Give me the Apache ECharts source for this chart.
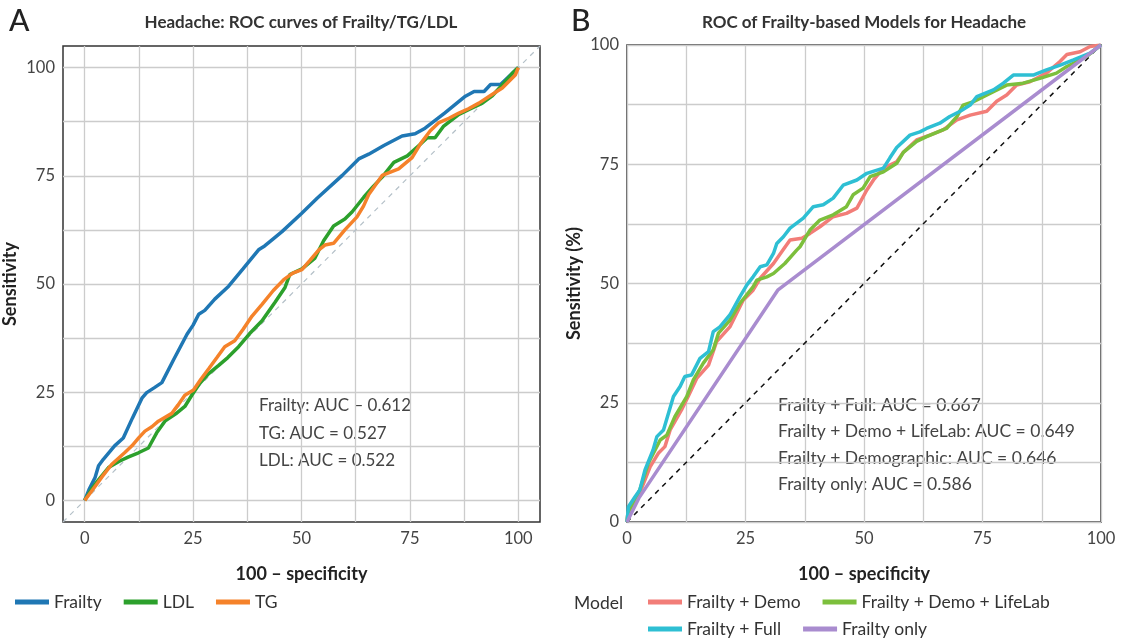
<!DOCTYPE html>
<html>
<head>
<meta charset="utf-8">
<script src="https://cdn.jsdelivr.net/npm/echarts@6/dist/echarts.min.js"></script>
<style>
  html, body { margin: 0; padding: 0; background: #fff; }
  #chart { width: 1122px; height: 641px; }
</style>
</head>
<body>
<div id="chart"></div>
<script>
// Panel A: ROC curves (x = 100 - specificity, y = sensitivity)
const frailtyA = [[0,0],[1,2.5],[2.4,5.3],[3.2,8],[4.3,9.5],[6.9,12.6],[8.9,14.4],[11,19],[13.2,23.6],[14.3,24.9],[16,26],[17.8,27.2],[20.5,32.5],[23.6,38.4],[25,40.5],[26.3,43],[27.7,43.9],[30,46.5],[33.2,49.5],[36.5,53.5],[40.1,57.9],[41.5,58.8],[43.2,60.2],[45.5,62.1],[50,66.3],[53.6,69.8],[59.4,75.1],[63.2,78.9],[65.5,80],[69,82],[73.2,84.2],[76.2,84.7],[78.5,86],[83,89.5],[87.8,93.4],[89.8,94.5],[92.1,94.5],[93.6,96.1],[95.9,96.1],[100,100]];
const ldlA = [[0,0],[1.5,2.5],[3,4.5],[5.5,7.6],[8.1,9.1],[10,10],[12.4,11],[14.7,12.1],[16.6,15.6],[18.5,18.3],[21,20],[23.1,21.7],[24.7,24.3],[26.5,27],[28.6,29.3],[30.9,31.2],[33,33],[35.5,35.5],[38,38.5],[40.9,41.5],[43.9,45.8],[46.2,49.2],[47.3,52.2],[50.1,53.5],[53.1,56],[55.1,60],[57.4,63.4],[60,65],[61.7,66.7],[64.4,70.1],[66.5,72.5],[68.6,74.7],[71.3,78.1],[74.4,79.6],[77.4,82.3],[79,83.8],[80.8,83.8],[82.8,86.5],[86.3,89.2],[89,90.5],[91.7,91.8],[94,93.5],[96.3,96],[98.6,98.7],[100,100]];
const tgA = [[0,0],[1.5,2],[3.9,5.3],[6.2,8.3],[9.2,11],[10.9,12.6],[12.5,14.5],[13.9,16],[15.5,17],[17,18.3],[20.1,20.1],[21.5,22],[23.1,24.3],[25.1,25.5],[26.8,28],[28.6,30.4],[30.5,33],[32.3,35.5],[34.6,36.9],[36.5,39.5],[38.6,42.6],[40.9,45.3],[43.5,48.5],[45.9,51],[48,52.5],[50.1,53.3],[52,55.5],[54,57.9],[55.4,59],[57.4,59.4],[60,62.5],[62.8,65.5],[64.3,68],[65.5,70.7],[68.6,75.1],[72.4,76.6],[75.5,79.2],[77.5,82.5],[79.7,85.4],[81.7,87.3],[84,88.3],[86.3,89.5],[88.5,90.5],[90.9,91.8],[93.5,93.5],[96.3,95.3],[99.3,98.3],[100,100]];
const namesA = ['Frailty', 'LDL', 'TG'];
const aucTextA = ['Frailty: AUC – 0.612', 'TG: AUC = 0.527', 'LDL: AUC = 0.522'];

// Panel B: frailty-based models
const demoB = [[0,0],[0.2,1.9],[2.7,6.1],[4.9,11.6],[6.6,14.4],[8,15.8],[9.1,19.3],[11.5,23.5],[12.9,26.3],[14.7,30.1],[17.2,32.9],[18.9,37.8],[21.7,40.9],[24.5,46.5],[26.6,48.6],[28.1,51.1],[30.9,54.2],[32.9,57],[34.4,59.1],[36.9,59.5],[38.6,60.5],[40.7,61.9],[43.5,64],[46.3,64.7],[48.5,65.8],[50.6,69.6],[52,71.7],[54.1,74.2],[56.9,75.5],[58.3,77.5],[61.1,80.1],[63.9,81.1],[66.7,82.2],[69.6,84.3],[72.4,85.3],[75.9,86.1],[78,88.2],[80.1,89.5],[82.2,91.6],[85,92.3],[88.5,94.1],[91.4,96.6],[92.8,98],[95.6,98.6],[97.7,99.7],[100,100]];
const lifelabB = [[0,0],[0.2,1.9],[2.7,6.7],[4.5,12.3],[7,17.2],[8.4,18.2],[10.1,22.1],[12.6,26.3],[14,29.8],[16.1,33.3],[18.2,36.1],[19.3,39.6],[21.7,42.3],[23.8,45.8],[26.6,49.3],[27.4,50.7],[29.5,51.4],[30.9,52.1],[33.3,54.2],[35.8,57],[36.5,57.7],[38.6,61.2],[40.7,63.3],[43.5,64.4],[46.3,66.1],[47.7,68.6],[49.8,70],[51.3,72.4],[54.1,73.4],[56.9,75.2],[58.3,77.5],[61.1,79.8],[63.2,80.8],[67.4,82.5],[69.6,85],[70.9,87.4],[73.1,88.1],[77.3,90.2],[80.1,91.6],[83.6,92],[87.1,93],[90.6,94.1],[92.8,95.5],[97,97.6],[100,100]];
const fullB = [[0,0],[0.3,3.2],[1.7,5.3],[2.7,6.7],[3.8,10.9],[5.5,15.1],[6.3,17.9],[7.7,19.3],[9.8,26.3],[11.2,28.4],[12.2,30.5],[13.6,30.8],[15.4,34.3],[17.2,35.7],[18.2,39.9],[19.6,40.9],[21.7,43.4],[23.8,47.2],[25.3,49.7],[26.6,51.4],[28.1,53.5],[29.5,53.9],[30.9,56.3],[31.6,58.4],[33,59.8],[34.4,61.6],[37.2,63.7],[39.3,66.1],[41.4,66.5],[43.5,67.9],[45.6,70.6],[48.5,71.7],[50.6,73.1],[54.1,74.2],[55.5,76.4],[56.9,78.5],[59.7,81.1],[61.8,81.8],[63.2,82.5],[66,83.6],[68.1,85],[70.3,86.1],[72.4,87.4],[73.8,89.2],[77.3,90.6],[79.4,92],[81.5,93.7],[85.7,93.7],[88.5,94.8],[91.4,95.8],[94.2,96.9],[97.7,98.3],[100,100]];
const onlyB = [[0,0],[2.5,5],[31.8,48.6],[100,100]];
const namesB = ['Frailty + Demo', 'Frailty + Demo + LifeLab', 'Frailty + Full', 'Frailty only'];
const aucTextB = ['Frailty + Full: AUC = 0.667', 'Frailty + Demo + LifeLab: AUC = 0.649', 'Frailty + Demographic: AUC = 0.646', 'Frailty only: AUC = 0.586'];

const tickLabels = [0, 25, 50, 75, 100];
const gridTicks = [0, 12.5, 25, 37.5, 50, 62.5, 75, 87.5, 100];

const FONT = 'Lato, "Noto Sans", sans-serif';
const colorsA = ['#1f77b4', '#2ca02c', '#f5822a'];
const colorsB = ['#f27d78', '#7cbf3c', '#2ebfd3', '#a98ccf'];

const chart = echarts.init(document.getElementById('chart'), null, { renderer: 'canvas' });

const nameStyle = { fontFamily: FONT, fontSize: 18, fontWeight: 'bold', color: '#222' };
const labelStyle = { fontFamily: FONT, fontSize: 16.5, color: '#444', margin: 8 };

function axisA(name, gap) {
    return {
        type: 'value', gridIndex: 0, min: -5, max: 105,
        name: name, nameLocation: 'middle', nameGap: gap, nameTextStyle: nameStyle,
        axisLine: { show: false },
        axisTick: { show: false, customValues: gridTicks },
        axisLabel: Object.assign({ customValues: tickLabels }, labelStyle),
        splitLine: { show: true, lineStyle: { color: '#cccccc', width: 1.3 } }
    };
}
function axisB(name, gap) {
    return {
        type: 'value', gridIndex: 1, min: 0, max: 100, interval: 12.5,
        name: name, nameLocation: 'middle', nameGap: gap, nameTextStyle: nameStyle,
        axisLine: { show: false },
        axisTick: { show: false },
        axisLabel: Object.assign({
            formatter: v => (tickLabels.indexOf(v) >= 0 ? String(v) : '')
        }, labelStyle),
        splitLine: { show: true, lineStyle: { color: '#cccccc', width: 1.3 } }
    };
}

function curve(name, data, color, xi) {
    return {
        name: name, type: 'line', xAxisIndex: xi, yAxisIndex: xi,
        data: data, showSymbol: false, symbol: 'none',
        lineStyle: { color: color, width: 3.5 }, itemStyle: { color: color },
        emphasis: { disabled: true }, animation: false
    };
}

const textEl = (t, x, y, extra) => ({
    type: 'text', x: x, y: y, silent: true,
    style: Object.assign({ text: t, font: '17px ' + FONT, fill: '#444', textVerticalAlign: 'middle' }, extra || {})
});

const graphics = [
    textEl('A', 9, 21, { font: '500 30px ' + FONT, fill: '#222' }),
    textEl('B', 571, 21, { font: '500 30px ' + FONT, fill: '#222' }),
    textEl('Headache: ROC curves of Frailty/TG/LDL', 301, 23, { font: 'bold 17px ' + FONT, fill: '#333', textAlign: 'center' }),
    textEl('ROC of Frailty-based Models for Headache', 864, 23, { font: 'bold 17px ' + FONT, fill: '#333', textAlign: 'center' }),
    textEl('Model', 574, 603, { font: '17.5px ' + FONT, fill: '#333' })
];
aucTextA.forEach((t, i) => graphics.push(textEl(t, 259, 406 + i * 27.5)));
aucTextB.forEach((t, i) => graphics.push(textEl(t, 778, 405 + i * 26.5, { font: '17.5px ' + FONT })));

const legendCommon = {
    icon: 'rect', itemWidth: 34, itemHeight: 5, itemGap: 22, padding: 0,
    textStyle: { fontFamily: FONT, fontSize: 17.5, color: '#333' },
    selectedMode: false
};

chart.setOption({
    backgroundColor: '#fff',
    animation: false,
    grid: [
        { left: 62, top: 46, width: 478, height: 476, show: true, borderColor: '#333', borderWidth: 1.5, backgroundColor: '#fff' },
        { left: 627, top: 45, width: 474, height: 477, show: true, borderColor: '#333', borderWidth: 1.5, backgroundColor: '#fff' }
    ],
    xAxis: [axisA('100 – specificity', 43), axisB('100 – specificity', 43)],
    yAxis: [axisA('Sensitivity', 44), axisB('Sensitivity (%)', 44)],
    legend: [
        Object.assign({ left: 15, top: 593, data: namesA }, legendCommon),
        Object.assign({ left: 648, top: 593, data: namesB.slice(0, 2) }, legendCommon),
        Object.assign({ left: 648, top: 620, data: namesB.slice(2) }, legendCommon)
    ],
    graphic: graphics,
    series: [
        {
            type: 'line', xAxisIndex: 0, yAxisIndex: 0, data: [[-5, -5], [105, 105]],
            showSymbol: false, symbol: 'none', silent: true,
            lineStyle: { color: '#b4c0c8', width: 1.2, type: [5, 5] }
        },
        curve(namesA[0], frailtyA, colorsA[0], 0),
        curve(namesA[1], ldlA, colorsA[1], 0),
        curve(namesA[2], tgA, colorsA[2], 0),
        {
            type: 'line', xAxisIndex: 1, yAxisIndex: 1, data: [[0, 0], [100, 100]],
            showSymbol: false, symbol: 'none', silent: true, z: 1,
            lineStyle: { color: '#111', width: 1.5, type: [5, 5] }
        },
        curve(namesB[0], demoB, colorsB[0], 1),
        curve(namesB[1], lifelabB, colorsB[1], 1),
        curve(namesB[2], fullB, colorsB[2], 1),
        curve(namesB[3], onlyB, colorsB[3], 1)
    ]
});
</script>
</body>
</html>
